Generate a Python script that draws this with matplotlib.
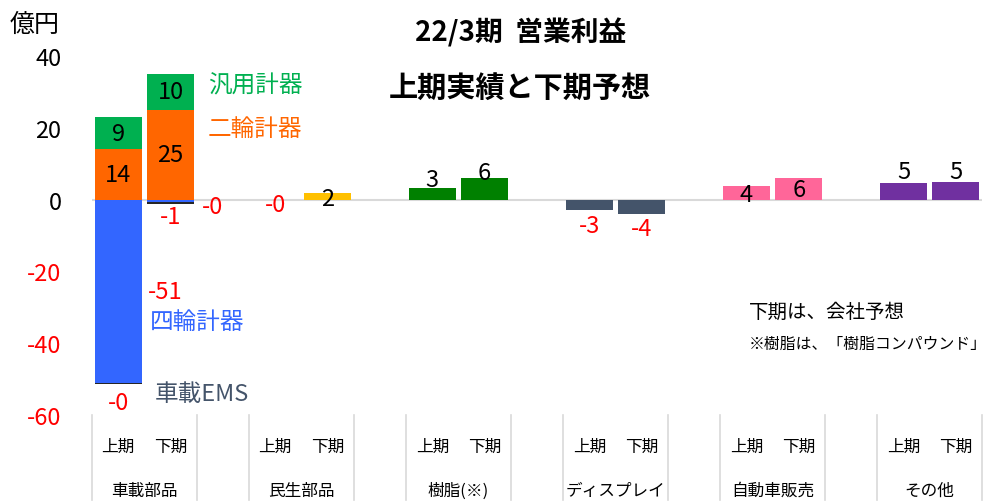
import numpy as np
import matplotlib.pyplot as plt

plt.rcParams['font.family'] = ['Noto Sans CJK JP', 'DejaVu Sans']
plt.rcParams['axes.unicode_minus'] = False

# categories and periods
groups = ['車載部品', '民生部品', '樹脂(※)', 'ディスプレイ', '自動車販売', 'その他']
periods = ['上期', '下期']

# 車載部品 stacked segments (上期, 下期)
four_wheel = [-51, -0.8]
two_wheel = [14, 25]
general = [9, 10]
ems = [-0.4, -0.4]

# other segments (上期, 下期)
minsei = [-0.2, 1.7]
resin = [3.1, 5.9]
display = [-3.0, -4.0]
auto_sales = [3.9, 5.9]
others = [4.7, 4.8]

single = [minsei, resin, display, auto_sales, others]
single_colors = [['#4A7BFF', '#FFC000'], ['#008000', '#008000'], ['#44546A', '#44546A'],
                 ['#FF6699', '#FF6699'], ['#7030A0', '#7030A0']]
# label offsets in data units (manual label placement like the source)
label_offsets = [[-1.2, -1.4], [2.5, 1.6], [-4.3, -4.1], [-2.5, -3.1], [3.1, 3.0]]

fig = plt.figure(figsize=(9.91, 5.02), dpi=100)
ax = fig.add_axes([92 / 991, 86 / 502, 890 / 991, 359 / 502])

w = 0.9
x0 = np.array([0.5, 1.5])

# 車載部品 stack
ax.bar(x0, two_wheel, w, color='#FF6600')
ax.bar(x0, general, w, bottom=two_wheel, color='#00B050')
ax.bar(x0, four_wheel, w, color='#3366FF')
ax.bar(x0, ems, w, bottom=four_wheel, color='#262626')

for i in range(2):
    ax.text(x0[i], two_wheel[i] / 2, f'{two_wheel[i]:.0f}', ha='center', va='center', fontsize=17)
    ax.text(x0[i], two_wheel[i] + general[i] / 2, f'{general[i]:.0f}', ha='center', va='center', fontsize=17)

ax.text(1.39, four_wheel[0] / 2, f'{four_wheel[0]:.0f}', ha='center', va='center', fontsize=17, color='red')
ax.text(1.5, four_wheel[1] - 3.9, f'{four_wheel[1]:.0f}', ha='center', va='center', fontsize=17, color='red')
ax.text(0.5, four_wheel[0] + ems[0] - 5, f'{ems[0]:.0f}', ha='center', va='center', fontsize=17, color='red')
ax.text(2.31, -1.9, f'{ems[1]:.0f}', ha='center', va='center', fontsize=17, color='red')

# series names
ax.text(2.21, 31.8, '汎用計器', color='#00B050', fontsize=17, va='center')
ax.text(2.21, 19.8, '二輪計器', color='#FF6600', fontsize=17, va='center')
ax.text(1.11, -34, '四輪計器', color='#3366FF', fontsize=17, va='center')
ax.text(1.2, -54, '車載EMS', color='#44546A', fontsize=17, va='center')

# other groups
for g, vals in enumerate(single):
    xs = np.array([3.5, 4.5]) + 3 * g
    ax.bar(xs, vals, w, color=single_colors[g])
    for j in range(2):
        v = vals[j]
        ax.text(xs[j], v + label_offsets[g][j], f'{v:.0f}', ha='center', va='center',
                fontsize=17, color='red' if v < 0 else 'black')

ax.axhline(0, color='#D9D9D9', lw=1.5, zorder=0)
ax.set_xlim(0, 17)
ax.set_ylim(-60, 40)
ax.set_yticks([40, 20, 0, -20, -40, -60])
ax.tick_params(axis='y', length=0, pad=22, labelsize=17)
ax.tick_params(axis='x', length=0, labelbottom=False)
for lbl in ax.get_yticklabels():
    if float(lbl.get_text().replace('−', '-')) < 0:
        lbl.set_color('red')
for s in ax.spines.values():
    s.set_visible(False)

# category axis below
edges = [0, 2, 3, 5, 6, 8, 9, 11, 12, 14, 15, 17]
for e in edges:
    ax.plot([e, e], [0, -0.237], transform=ax.get_xaxis_transform(), color='#D9D9D9',
            lw=1.2, clip_on=False)
for g, name in enumerate(groups):
    for j, p in enumerate(periods):
        ax.text(0.5 + j + 3 * g, -0.086, p, transform=ax.get_xaxis_transform(),
                ha='center', va='center', fontsize=12)
    ax.text(1 + 3 * g, -0.209, name, transform=ax.get_xaxis_transform(),
            ha='center', va='center', fontsize=12)

fig.text(0.010, 0.95, '億円', fontsize=18, va='center', ha='left')
fig.text(0.525, 0.934, '22/3期  営業利益', fontsize=20, fontweight='bold', ha='center', va='center')
fig.text(0.525, 0.825, '上期実績と下期予想', fontsize=21, fontweight='bold', ha='center', va='center')
fig.text(0.756, 0.378, '下期は、会社予想', fontsize=14, va='center')
fig.text(0.756, 0.313, '※樹脂は、「樹脂コンパウンド」', fontsize=11.4, va='center')

fig.savefig('out.png', dpi=100)
